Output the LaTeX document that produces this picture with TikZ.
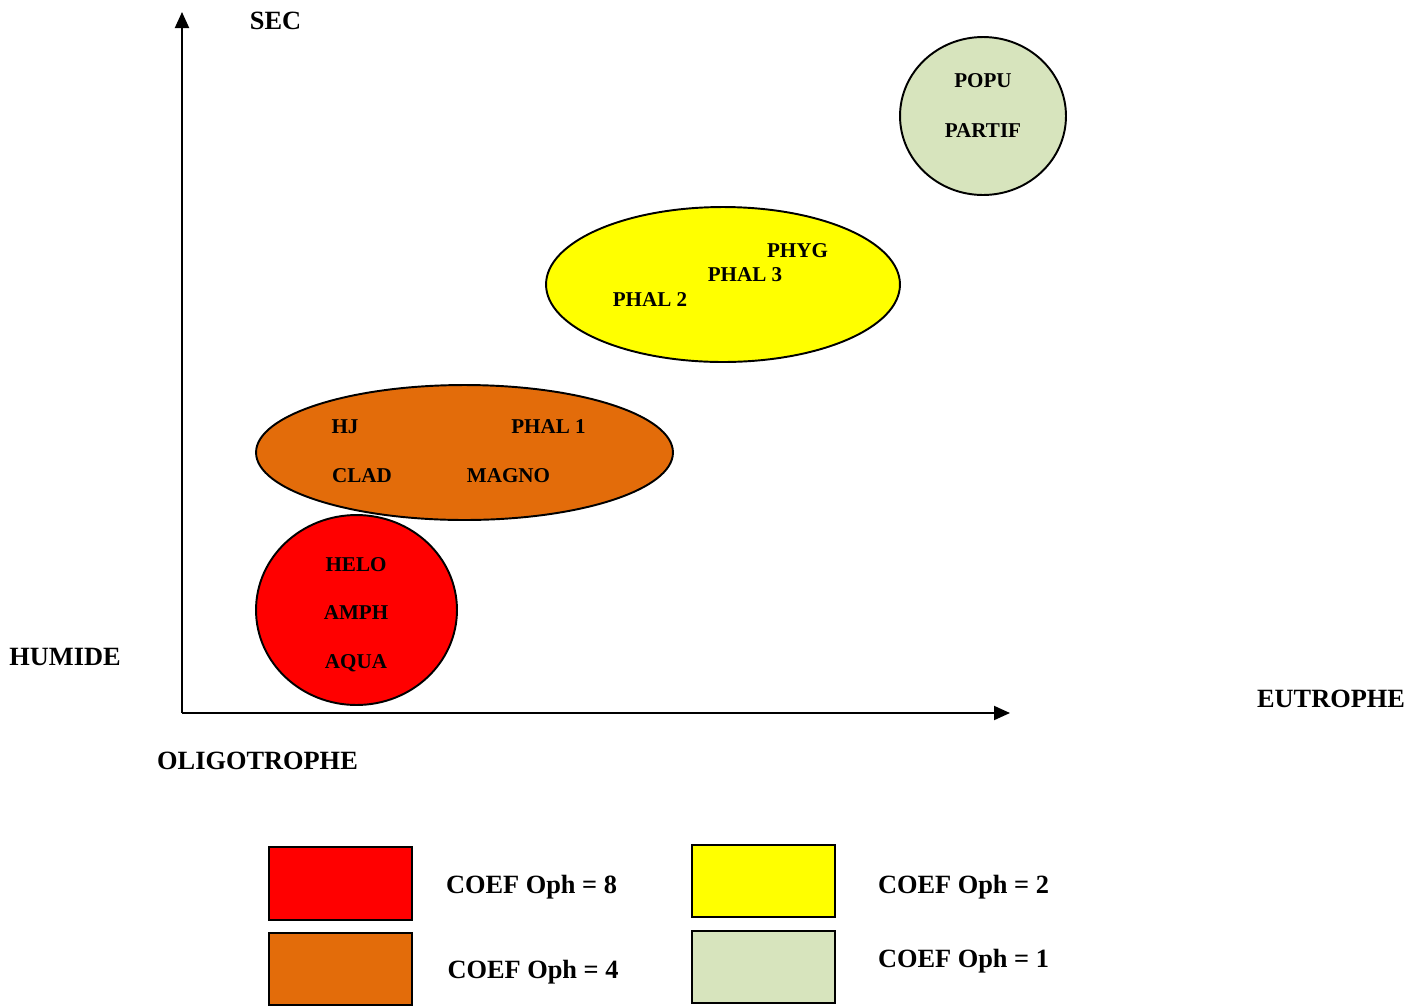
\documentclass[tikz,border=0pt]{standalone}
\usepackage{fontspec}
\setmainfont{Liberation Serif}
\usetikzlibrary{shapes.geometric,arrows.meta}
\definecolor{ophred}{HTML}{FF0000}
\definecolor{ophorange}{HTML}{E36C0A}
\definecolor{ophyellow}{HTML}{FFFF00}
\definecolor{ophgreen}{HTML}{D7E4BD}
\tikzstyle{group}=[ellipse,draw,line width=1.1pt,inner sep=0pt]
\tikzstyle{legendbox}=[rectangle,draw,line width=1.1pt,inner sep=0pt,minimum width=2.86cm,minimum height=1.45cm]
\tikzstyle{axis} = [draw,line width=1.1pt,-{Triangle[length=0.32cm,width=0.28cm]}]
\tikzstyle{taxon}=[font=\fontsize{12}{14}\selectfont\bfseries,anchor=base,inner sep=0pt]
\tikzstyle{biglabel}=[font=\fontsize{15}{18}\selectfont\bfseries,anchor=base,inner sep=0pt]

\begin{document}
\begin{tikzpicture}[x=0.02cm,y=-0.02cm]
    \useasboundingbox (0,0) rectangle (1423,1005);

    % axes
    \coordinate (origin) at (182,713);
    \coordinate (ytop) at (182,12);
    \coordinate (xend) at (1010,713);
    \path[axis] (origin) -- (ytop);
    \path[axis] (origin) -- (xend);

    \foreach \pos/\id/\txt in {{(275.5,29)/sec/SEC},{(65,665)/humide/HUMIDE},{(1331,707)/eutrophe/EUTROPHE},{(257.5,769)/oligo/OLIGOTROPHE}}
        \node[biglabel] (\id) at \pos {\txt};

    % groups of species
    \node[group,fill=ophgreen,minimum width=3.32cm,minimum height=3.16cm] (green) at (983,116) {};
    \node[group,fill=ophyellow,minimum width=7.08cm,minimum height=3.1cm] (yellow) at (723,284.5) {};
    \node[group,fill=ophred,minimum width=4.02cm,minimum height=3.8cm] (red) at (356.5,610) {};
    \node[group,fill=ophorange,minimum width=8.34cm,minimum height=2.7cm] (orange) at (464.5,452.5) {};

    \foreach \pos/\id/\txt in {{(983,87)/popu/POPU},{(983,137)/partif/PARTIF},
        {(797.5,257)/phyg/PHYG},{(745,281)/phalc/PHAL 3},{(650,306)/phalb/PHAL 2},
        {(345,433)/hj/HJ},{(548.5,433)/phala/PHAL 1},{(362,482)/clad/CLAD},{(508.5,482)/magno/MAGNO},
        {(356,571)/helo/HELO},{(356,619)/amph/AMPH},{(356,668)/aqua/AQUA}}
        \node[taxon] (\id) at \pos {\txt};

    % legend
    \foreach \pos/\id/\col in {{(340.5,883.5)/boxa/ophred},{(340.5,969)/boxb/ophorange},{(763.5,881)/boxc/ophyellow},{(763.5,967)/boxd/ophgreen}}
        \node[legendbox,fill=\col] (\id) at \pos {};

    \foreach \pos/\id/\val in {{(531.5,893)/coefa/8},{(533,978)/coefb/4},{(963.5,893)/coefc/2},{(963.5,967)/coefd/1}}
        \node[biglabel] (\id) at \pos {COEF Oph = \val};
\end{tikzpicture}
\end{document}
